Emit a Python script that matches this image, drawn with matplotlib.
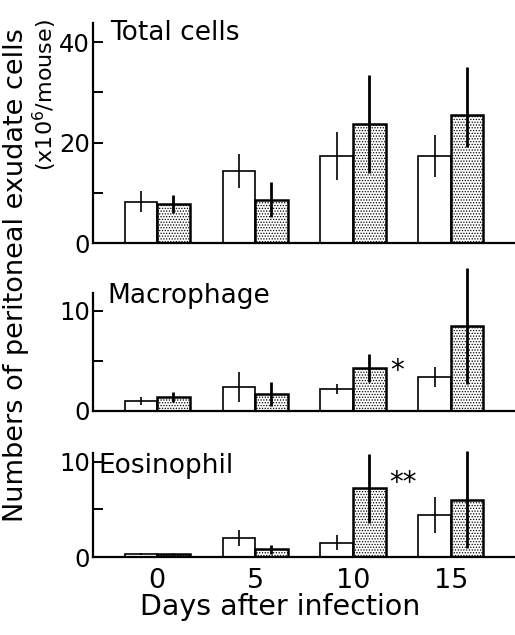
import matplotlib
matplotlib.use("Agg")
import matplotlib.pyplot as plt
import numpy as np

plt.rcParams['hatch.linewidth'] = 0.6

# Data
days = [0, 5, 10, 15]

total_ctrl = [8.2, 14.3, 17.3, 17.3]
total_ctrl_err = [2.1, 3.4, 4.7, 4.2]
total_inf = [7.7, 8.6, 23.7, 25.5]
total_inf_err_lo = [1.8, 3.5, 9.7, 6.4]
total_inf_err_hi = [1.8, 3.5, 9.7, 9.5]

macro_ctrl = [1.0, 2.4, 2.2, 3.4]
macro_ctrl_err = [0.4, 1.5, 0.5, 1.0]
macro_inf = [1.4, 1.7, 4.3, 8.5]
macro_inf_err = [0.5, 1.2, 1.4, 5.8]

eos_ctrl = [0.3, 2.0, 1.5, 4.4]
eos_ctrl_err = [0.1, 0.8, 0.8, 1.9]
eos_inf = [0.3, 0.8, 7.2, 6.0]
eos_inf_err = [0.1, 0.5, 3.6, 5.1]

# name, ctrl, ctrl err, infected, infected err, ylim top, label pos (x, y in axes coords)
panels = [
    ("Total cells", total_ctrl, total_ctrl_err, total_inf,
     [total_inf_err_lo, total_inf_err_hi], 43.8, (0.04, 1.015)),
    ("Macrophage", macro_ctrl, macro_ctrl_err, macro_inf,
     macro_inf_err, 11.8, (0.035, 1.085)),
    ("Eosinophil", eos_ctrl, eos_ctrl_err, eos_inf,
     eos_inf_err, 10.9, (0.012, 1.0)),
]

# axes rectangles (left, bottom, width, height) in figure fractions
rects = [
    (0.1806, 0.6173, 0.8194, 0.3465),
    (0.1806, 0.3528, 0.8194, 0.1858),
    (0.1806, 0.1228, 0.8194, 0.1635),
]

fig = plt.figure(figsize=(5.15, 6.35), dpi=100)

w = 1.66
x = np.array(days, dtype=float)
axes = []

for (name, c, ce, inf, ie, ytop, lpos), r in zip(panels, rects):
    ax = fig.add_axes(r)
    axes.append(ax)
    ax.bar(x - w / 2, c, width=w, color="white", edgecolor="black", linewidth=1.2, zorder=2)
    ax.bar(x + w / 2, inf, width=w, color="white", edgecolor="black", linewidth=1.8,
           hatch="......", zorder=2)
    ax.errorbar(x - w / 2, c, yerr=ce, fmt="none", ecolor="black", elinewidth=1.2,
                capsize=0, zorder=3, clip_on=False)
    ax.errorbar(x + w / 2, inf, yerr=ie, fmt="none", ecolor="black", elinewidth=2.0,
                capsize=0, zorder=3, clip_on=False)

    ax.set_xlim(-3.27, 18.27)
    ax.set_ylim(0, ytop)
    ax.spines["top"].set_visible(False)
    ax.spines["right"].set_visible(False)
    ax.spines["left"].set_linewidth(1.6)
    ax.spines["bottom"].set_linewidth(1.6)

    if name == "Total cells":
        ax.set_yticks([0, 10, 20, 30, 40])
        ax.set_yticklabels(["0", "", "20", "", "40"])
    else:
        ax.set_yticks([0, 5, 10])
        ax.set_yticklabels(["0", "", "10"])
    ax.tick_params(axis="y", direction="in", length=7, width=1.4, labelsize=17.5, pad=2)
    ax.tick_params(axis="x", length=0, labelsize=19.5, pad=8)
    ax.set_xticks(days)
    if name != "Eosinophil":
        ax.set_xticklabels([])
    else:
        ax.set_xticklabels([str(d) for d in days])

    ax.text(lpos[0], lpos[1], name, transform=ax.transAxes, fontsize=19,
            ha="left", va="top")

# significance marks
axes[1].text(x[2] + w + 0.25, macro_inf[2] - 0.3, "*", fontsize=20, ha="left", va="center")
axes[2].text(x[2] + w + 0.2, eos_inf[2] + 0.6, "**", fontsize=20, ha="left", va="center")

fig.text(0.544, 0.044, "Days after infection", fontsize=20.5, ha="center", va="center")

fig.text(0.031, 0.567, "Numbers of peritoneal exudate cells", rotation=90,
         fontsize=19.5, ha="center", va="center")
fig.text(0.088, 0.85, r"(x10$^6$/mouse)", rotation=90,
         fontsize=16, ha="center", va="center")

fig.savefig("out.png", dpi=100)
